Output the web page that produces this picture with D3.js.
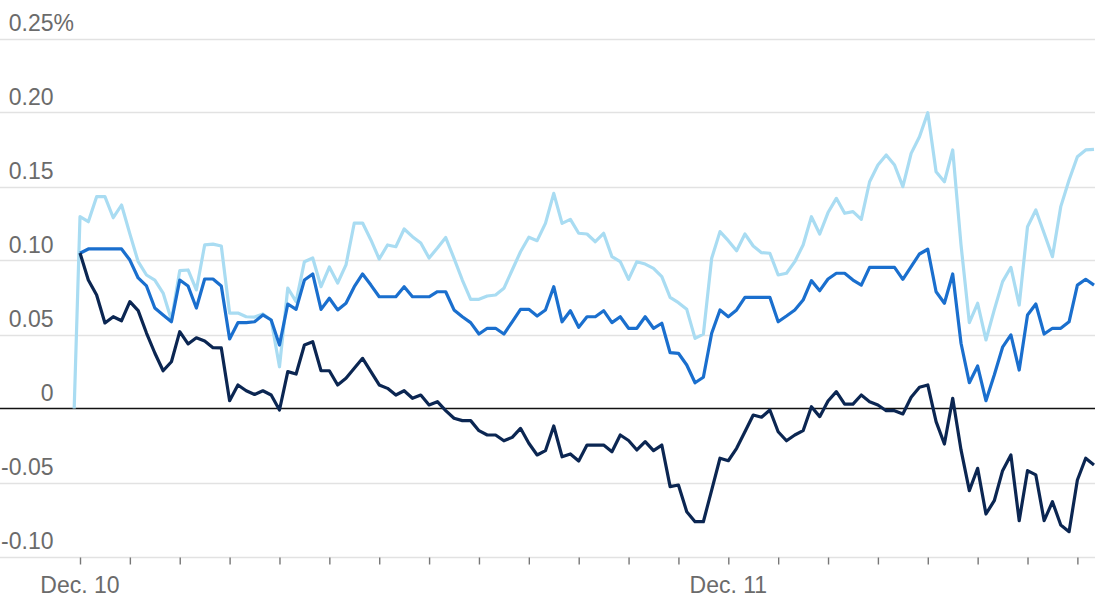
<!DOCTYPE html>
<html>
<head>
<meta charset="utf-8">
<script src="https://cdn.jsdelivr.net/npm/d3@7"></script>
<style>
  html, body { margin: 0; padding: 0; background: #ffffff; }
  svg { display: block; }
  text { font-family: "Liberation Sans", Arial, Helvetica, sans-serif; }
</style>
</head>
<body>
<svg id="chart" width="1095" height="600"></svg>
<script>
// ---- data ----
const yTicks = [-0.10, -0.05, 0, 0.05, 0.10, 0.15, 0.20, 0.25];
const yTickLabels = ["-0.10", "-0.05", "0", "0.05", "0.10", "0.15", "0.20", "0.25"];
const dayLabels = ["Dec. 10", "Dec. 11"];
const dayStarts = [0, 390];           // trading minutes since Dec. 10 open
const leadMinute = -3.5;              // first (reference) point before the open
const stepMinutes = 5;

const lightBlue = [0,
  0.1296, 0.1262, 0.1431, 0.1431, 0.1289, 0.1375, 0.1180, 0.0992, 0.0902, 0.0868,
  0.0780, 0.0598, 0.0931, 0.0936, 0.0801, 0.1105, 0.1111, 0.1098, 0.0645, 0.0645,
  0.0620, 0.0618, 0.0639, 0.0598, 0.0282, 0.0814, 0.0722, 0.0992, 0.1017, 0.0823,
  0.0956, 0.0848, 0.0970, 0.1253, 0.1253, 0.1139, 0.1010, 0.1105, 0.1093, 0.1213,
  0.1161, 0.1118, 0.1017, 0.1084, 0.1155, 0.1015, 0.0868, 0.0738, 0.0738, 0.0760,
  0.0767, 0.0812, 0.0936, 0.1059, 0.1157, 0.1134, 0.1251, 0.1454, 0.1251, 0.1278,
  0.1184, 0.1179, 0.1127, 0.1184, 0.1026, 0.0992, 0.0872, 0.0992, 0.0976, 0.0947,
  0.0891, 0.0751, 0.0715, 0.0670, 0.0474, 0.0503, 0.1015, 0.1195, 0.1134, 0.1066,
  0.1179, 0.1098, 0.1053, 0.1049, 0.0902, 0.0914, 0.0992, 0.1105, 0.1296, 0.1179,
  0.1324, 0.1420, 0.1319, 0.1330, 0.1278, 0.1532, 0.1645, 0.1713, 0.1645, 0.1499,
  0.1724, 0.1836, 0.1999, 0.1600, 0.1532, 0.1747, 0.1105, 0.0580, 0.0711, 0.0463,
  0.0666, 0.0857, 0.0954, 0.0699, 0.1228, 0.1341, 0.1184, 0.1026, 0.1364, 0.1544,
  0.1701, 0.1747, 0.1751];

const midBlue = [null,
  0.1049, 0.1078, 0.1078, 0.1078, 0.1078, 0.1078, 0.1003, 0.0882, 0.0828, 0.0679,
  0.0632, 0.0586, 0.0868, 0.0828, 0.0679, 0.0875, 0.0875, 0.0828, 0.0470, 0.0580,
  0.0580, 0.0586, 0.0632, 0.0598, 0.0429, 0.0706, 0.0670, 0.0868, 0.0909, 0.0670,
  0.0745, 0.0666, 0.0711, 0.0823, 0.0909, 0.0834, 0.0755, 0.0755, 0.0755, 0.0823,
  0.0755, 0.0755, 0.0755, 0.0789, 0.0789, 0.0666, 0.0620, 0.0580, 0.0503, 0.0542,
  0.0542, 0.0503, 0.0586, 0.0670, 0.0670, 0.0625, 0.0666, 0.0823, 0.0586, 0.0661,
  0.0549, 0.0620, 0.0620, 0.0661, 0.0580, 0.0620, 0.0542, 0.0542, 0.0620, 0.0542,
  0.0576, 0.0377, 0.0373, 0.0294, 0.0174, 0.0211, 0.0508, 0.0666, 0.0620, 0.0666,
  0.0751, 0.0751, 0.0751, 0.0751, 0.0586, 0.0625, 0.0666, 0.0733, 0.0864, 0.0796,
  0.0875, 0.0914, 0.0914, 0.0868, 0.0834, 0.0954, 0.0954, 0.0954, 0.0954, 0.0873,
  0.0958, 0.1044, 0.1076, 0.0789, 0.0711, 0.0909, 0.0441, 0.0174, 0.0287, 0.0053,
  0.0226, 0.0414, 0.0497, 0.0260, 0.0632, 0.0706, 0.0503, 0.0542, 0.0542, 0.0586,
  0.0834, 0.0873, 0.0834];

const darkBlue = [null,
  0.1051, 0.0868, 0.0767, 0.0578, 0.0620, 0.0593, 0.0722, 0.0661, 0.0510, 0.0375,
  0.0255, 0.0316, 0.0519, 0.0436, 0.0478, 0.0456, 0.0411, 0.0409, 0.0053, 0.0159,
  0.0120, 0.0095, 0.0120, 0.0091, -0.0010, 0.0249, 0.0233, 0.0429, 0.0451, 0.0255,
  0.0255, 0.0159, 0.0204, 0.0272, 0.0339, 0.0249, 0.0159, 0.0136, 0.0091, 0.0120,
  0.0069, 0.0091, 0.0024, 0.0046, -0.0014, -0.0066, -0.0082, -0.0082, -0.0150, -0.0179,
  -0.0179, -0.0218, -0.0195, -0.0134, -0.0235, -0.0314, -0.0285, -0.0118, -0.0326, -0.0307,
  -0.0355, -0.0247, -0.0247, -0.0247, -0.0292, -0.0179, -0.0216, -0.0280, -0.0224, -0.0285,
  -0.0247, -0.0528, -0.0517, -0.0697, -0.0765, -0.0765, -0.0551, -0.0336, -0.0353, -0.0269,
  -0.0157, -0.0044, -0.0059, -0.0010, -0.0157, -0.0218, -0.0179, -0.0150, 0.0012, -0.0055,
  0.0051, 0.0114, 0.0030, 0.0030, 0.0091, 0.0046, 0.0024, -0.0015, -0.0015, -0.0037,
  0.0076, 0.0143, 0.0159, -0.0089, -0.0240, 0.0069, -0.0280, -0.0555, -0.0404, -0.0713,
  -0.0623, -0.0420, -0.0314, -0.0758, -0.0420, -0.0449, -0.0758, -0.0630, -0.0787, -0.0832,
  -0.0483, -0.0336, -0.0382];

const seriesColors = ["#a9dcf2", "#1a6fce", "#0b2652"];

// ---- layout ----
const W = 1095, H = 600;
const svg = d3.select("#chart");

const minutes = [leadMinute].concat(d3.range(0, lightBlue.length - 1).map(i => i * stepMinutes));

const x = d3.scaleLinear().domain([0, 390]).range([80, 728.3]);
const y = d3.scaleLinear().domain([-0.10, 0.25]).range([556.5, 38.5]);

// gridlines
svg.append("g").selectAll("line")
  .data(yTicks.filter(v => v !== 0))
  .join("line")
  .attr("x1", 0).attr("x2", W)
  .attr("y1", d => Math.round(y(d)) + 0.5).attr("y2", d => Math.round(y(d)) + 0.5)
  .attr("stroke", "#e2e2e2").attr("stroke-width", 1.4);

// y labels (right-aligned numbers, % hanging on the top one)
const labG = svg.append("g").attr("fill", "#6b6b6b").style("font-size", "23px");
labG.selectAll("text.num")
  .data(yTicks)
  .join("text")
  .attr("class", "num")
  .attr("x", 53.5)
  .attr("y", d => y(d) - 8)
  .attr("text-anchor", "end")
  .text((d, i) => yTickLabels[i]);
labG.append("text")
  .attr("x", 53.5)
  .attr("y", y(yTicks[yTicks.length - 1]) - 8)
  .attr("text-anchor", "start")
  .text("%");

// x axis ticks
const tickVals = d3.range(0, 601, 30);
const xAxis = d3.axisBottom(x).tickValues(tickVals).tickSize(7).tickFormat("");
const axG = svg.append("g").attr("transform", `translate(0,${Math.round(y(-0.10)) + 0.5})`).call(xAxis);
axG.select(".domain").remove();
axG.selectAll(".tick line").attr("stroke", "#777").attr("stroke-width", 1.4);

svg.append("g").selectAll("text")
  .data(dayStarts)
  .join("text")
  .attr("x", d => x(d))
  .attr("y", 593)
  .attr("text-anchor", "middle")
  .attr("fill", "#6b6b6b")
  .style("font-size", "23px")
  .text((d, i) => dayLabels[i]);

// zero line
svg.append("line")
  .attr("x1", 0).attr("x2", W)
  .attr("y1", y(0)).attr("y2", y(0))
  .attr("stroke", "#111").attr("stroke-width", 1.5);

// lines
const line = d3.line()
  .defined(d => d[1] !== null)
  .x(d => x(d[0]))
  .y(d => y(d[1]));

[lightBlue, midBlue, darkBlue].forEach((vals, si) => {
  const pts = vals.map((v, i) => [minutes[i], v]);
  svg.append("path")
    .datum(pts)
    .attr("fill", "none")
    .attr("stroke", seriesColors[si])
    .attr("stroke-width", 3.2)
    .attr("stroke-linejoin", "round")
    .attr("stroke-linecap", "butt")
    .attr("d", line);
});
</script>
</body>
</html>
